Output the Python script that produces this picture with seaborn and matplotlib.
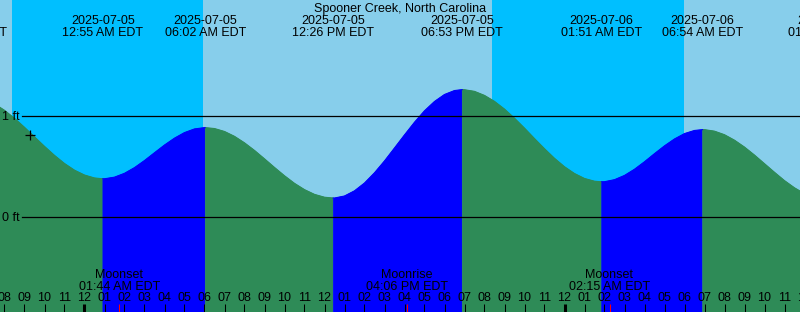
import numpy as np
import pandas as pd
import matplotlib
matplotlib.use("Agg")
import matplotlib.pyplot as plt
import matplotlib.dates as mdates
import matplotlib.transforms as mtransforms
import seaborn as sns

# ---------------- data ----------------
title = "Spooner Creek, North Carolina"
tz_name = "EDT"

# tide extremes (highs / lows)
tide_times = ["2025-07-04 18:04", "2025-07-05 00:55", "2025-07-05 06:02", "2025-07-05 12:26",
              "2025-07-05 18:53", "2025-07-06 01:51", "2025-07-06 06:54", "2025-07-06 13:14"]
tide_levels = [1.20, 0.38, 0.885, 0.19, 1.26, 0.35, 0.865, 0.17]

# tide level read every 30 minutes starting at curve_start (ft)
curve_start = "2025-07-04 19:30"
curve_levels = [
    1.120, 1.056, 0.977, 0.888, 0.794, 0.700, 0.611, 0.531, 0.465,
    0.417, 0.388, 0.380, 0.396, 0.434, 0.490, 0.560, 0.637, 0.713, 0.781,
    0.836, 0.872, 0.885, 0.876, 0.847, 0.799, 0.735, 0.660, 0.577, 0.492,
    0.410, 0.335, 0.273, 0.226, 0.198, 0.190, 0.210, 0.261, 0.338, 0.439,
    0.556, 0.684, 0.813, 0.938, 1.051, 1.143, 1.212, 1.251, 1.259, 1.243,
    1.203, 1.144, 1.068, 0.978, 0.880, 0.777, 0.677, 0.582, 0.499, 0.432,
    0.383, 0.356, 0.351, 0.371, 0.413, 0.474, 0.548, 0.628, 0.705, 0.773,
    0.826, 0.857, 0.865, 0.850, 0.815, 0.761, 0.693, 0.614, 0.529, 0.444,
    0.362, 0.291, 0.233,
]

# night (sunset -> sunrise)
night_starts = ["2025-07-04 20:22", "2025-07-05 20:22"]
night_ends = ["2025-07-05 05:55", "2025-07-06 05:58"]

# moon events
moon_names = ["Moonset", "Moonrise", "Moonset"]
moon_times = ["2025-07-05 01:44", "2025-07-05 16:06", "2025-07-06 02:15"]

# current-time mark
now_time = "2025-07-04 21:16"
now_level = 0.81

level_marks = [0, 1]
level_labels = ["0 ft", "1 ft"]

view_start = "2025-07-04 19:46:30"
view_end = "2025-07-06 11:46:30"
tick_start = "2025-07-04 19:00"
tick_end = "2025-07-06 12:00"

# ---------------- style ----------------
C_DAY = "#87CEEB"
C_NIGHT = "#00BFFF"
C_EBB = "#2E8B57"
C_FLOOD = "#0000FF"

plt.rcParams["font.family"] = ["Liberation Sans", "DejaVu Sans"]
FS = 9

W, H = 800, 312
fig = plt.figure(figsize=(W / 100, H / 100), dpi=100)
ax = fig.add_axes([0, 0, 1, 1])
ax.set_axis_off()


def num(ts):
    return mdates.date2num(pd.to_datetime(ts).to_pydatetime())


x0, x1 = num(view_start), num(view_end)
ax.set_xlim(x0, x1)
ax.set_ylim(-0.935, 2.145)

# sky
ax.axvspan(x0 - 1, x1 + 1, color=C_DAY, lw=0, zorder=0)
for s, e in zip(night_starts, night_ends):
    ax.axvspan(num(s), num(e), color=C_NIGHT, lw=0, zorder=0.5)

# tide curve table
ct = pd.date_range(curve_start, periods=len(curve_levels), freq="30min")
curve = pd.DataFrame({"t": num(ct), "level": curve_levels})
ext = pd.DataFrame({"t": num(tide_times), "level": tide_levels})
allpts = pd.concat([curve, ext]).sort_values("t").drop_duplicates("t").reset_index(drop=True)

ext_t = ext["t"].values
rows = []
for i in range(len(ext_t) - 1):
    phase = "flood" if tide_levels[i + 1] > tide_levels[i] else "ebb"
    m = (allpts["t"] >= ext_t[i]) & (allpts["t"] <= ext_t[i + 1])
    seg = allpts[m].copy()
    seg["seg"] = i
    seg["phase"] = phase
    rows.append(seg)
df = pd.concat(rows, ignore_index=True)

pal = {"flood": C_FLOOD, "ebb": C_EBB}
for i, g in df.groupby("seg"):
    c = pal[g["phase"].iloc[0]]
    ax.fill_between(g["t"], g["level"], -5, color=c, ec=c, lw=0.3, zorder=1)

sns.lineplot(data=df, x="t", y="level", hue="phase", units="seg", estimator=None,
             sort=False, palette=pal, legend=False, lw=0.8, ax=ax, zorder=2)
ax.set_xlim(x0, x1)
ax.set_ylim(-0.935, 2.145)
ax.set_axis_off()

# level reference lines + labels
for lv, lab in zip(level_marks, level_labels):
    ax.axhline(lv, xmin=22 / W, xmax=1, color="black", lw=0.9, zorder=3)
    tr = mtransforms.offset_copy(
        mtransforms.blended_transform_factory(fig.transFigure, ax.transData),
        fig=fig, x=0, y=-4, units="dots")
    ax.text(2 / W, lv, lab, transform=tr, ha="left", va="baseline",
            fontsize=FS, color="black", zorder=4)

# current time mark
ax.plot([num(now_time)], [now_level], marker="+", ms=7, mew=0.9, color="black", zorder=4)

# text helper (x in data, y as pixel from top)
tr_xy = mtransforms.blended_transform_factory(ax.transData, fig.transFigure)


def ytop(px):
    return 1 - px / H


fig.text(0.5, ytop(12), title, ha="center", va="baseline", fontsize=FS)

for t in tide_times:
    ts = pd.Timestamp(t)
    ax.text(num(t), ytop(24), ts.strftime("%Y-%m-%d"), transform=tr_xy,
            ha="center", va="baseline", fontsize=FS, zorder=5, clip_on=False)
    ax.text(num(t), ytop(36), ts.strftime("%I:%M %p ") + tz_name, transform=tr_xy,
            ha="center", va="baseline", fontsize=FS, zorder=5, clip_on=False)

for name, t in zip(moon_names, moon_times):
    ts = pd.Timestamp(t)
    ax.text(num(t), ytop(278), name, transform=tr_xy,
            ha="center", va="baseline", fontsize=FS, zorder=5)
    ax.text(num(t), ytop(289.5), ts.strftime("%I:%M %p ") + tz_name, transform=tr_xy,
            ha="center", va="baseline", fontsize=FS, zorder=5)

# hour ticks
xa = ax.get_xaxis_transform()
hours = pd.date_range(tick_start, tick_end, freq="h")
for hts in hours:
    xv = num(hts)
    lw = 2.2 if hts.hour == 0 else 0.75
    ax.vlines(xv, 0, 8 / H, transform=xa, color="black", lw=lw, zorder=4, clip_on=False)
    ax.text(xv, ytop(301), hts.strftime("%I"), transform=tr_xy,
            ha="center", va="baseline", fontsize=FS, zorder=5)
for t in moon_times:
    ax.vlines(num(t), 0, 8 / H, transform=xa, color="red", lw=0.75, zorder=4.5)

fig.savefig("out.png", dpi=100)
